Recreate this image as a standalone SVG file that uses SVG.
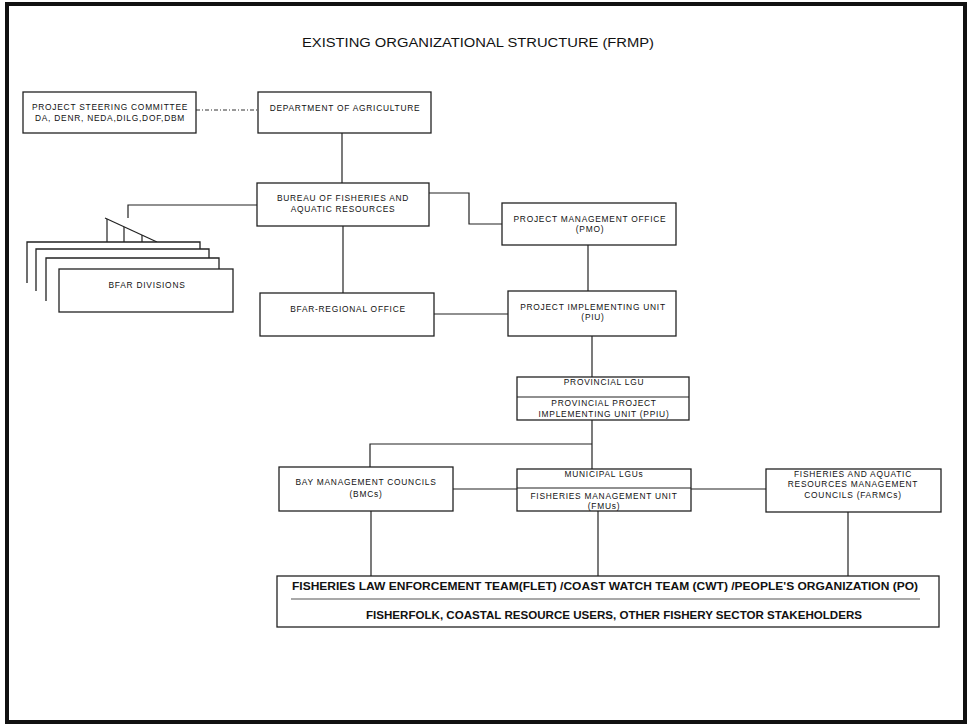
<svg xmlns="http://www.w3.org/2000/svg" width="969" height="725" viewBox="0 0 969 725">
  <style>
    .box { fill: #fff; stroke: #222; stroke-width: 1.3; }
    .ln { fill: none; stroke: #222; stroke-width: 1.2; }
    .t { font-family: "Liberation Sans", Arial, sans-serif; font-size: 8.4px; letter-spacing: 0.75px; fill: #111; text-anchor: middle; }
    .tb { font-family: "Liberation Sans", Arial, sans-serif; font-size: 10.5px; font-weight: bold; fill: #111; text-anchor: middle; }
    .title { font-family: "Liberation Sans", Arial, sans-serif; font-size: 12.5px; fill: #111; text-anchor: middle; }
  </style>

  <rect width="969" height="725" fill="#fff"/>
  <!-- page frame -->
  <rect x="7" y="4" width="958" height="718" fill="none" stroke="#111" stroke-width="4"/>

  <text class="title" x="478" y="47" textLength="352" lengthAdjust="spacingAndGlyphs">EXISTING ORGANIZATIONAL STRUCTURE (FRMP)</text>

  <!-- connectors -->
  <g id="connectors">
    <line x1="196" y1="110" x2="258" y2="110" stroke="#333" stroke-width="1" stroke-dasharray="4 2 1 2"/>
    <path class="ln" d="M342 133 V183"/>
    <path class="ln" d="M429 193 H469 V224 H502"/>
    <path class="ln" d="M343 226 V293"/>
    <path class="ln" d="M588 245 V291"/>
    <path class="ln" d="M434 314 H508"/>
    <path class="ln" d="M592 336 V377"/>
    <path class="ln" d="M592 420 V469"/>
    <path class="ln" d="M592 444 H370 V467"/>
    <path class="ln" d="M453 489 H517"/>
    <path class="ln" d="M691 489 H766"/>
    <path class="ln" d="M371 511 V576"/>
    <path class="ln" d="M598 511 V576"/>
    <path class="ln" d="M848 512 V576"/>
    <!-- BFAR to divisions -->
    <path class="ln" d="M257 205 H128 V218"/>
    <path class="ln" d="M105 218 L157 242"/>
    <path class="ln" d="M107 219 V242"/>
    <path class="ln" d="M124 227 V249"/>
    <path class="ln" d="M142 235 V258"/>
    <path class="ln" d="M157 242 V269"/>
  </g>

  <g id="steering">
    <rect class="box" x="23" y="92" width="173" height="41"/>
    <text class="t" x="110" y="110">PROJECT STEERING COMMITTEE</text>
    <text class="t" x="110" y="121">DA, DENR, NEDA,DILG,DOF,DBM</text>
  </g>

  <g id="da">
    <rect class="box" x="258" y="92" width="173" height="41"/>
    <text class="t" x="345" y="111">DEPARTMENT OF AGRICULTURE</text>
  </g>

  <g id="bfar">
    <rect class="box" x="257" y="183" width="172" height="43"/>
    <text class="t" x="343" y="201">BUREAU OF FISHERIES AND</text>
    <text class="t" x="343" y="212">AQUATIC RESOURCES</text>
  </g>

  <g id="pmo">
    <rect class="box" x="502" y="203" width="174" height="42"/>
    <text class="t" x="590" y="222">PROJECT MANAGEMENT OFFICE</text>
    <text class="t" x="590" y="232">(PMO)</text>
  </g>

  <g id="divisions">
    <path class="box" d="M27 283 V242 H200 V249"/>
    <path class="box" d="M36 291 V249 H209 V258"/>
    <path class="box" d="M46 301 V258 H219 V269"/>
    <rect class="box" x="59" y="269" width="174" height="43"/>
    <text class="t" x="147" y="288">BFAR DIVISIONS</text>
  </g>

  <g id="regional">
    <rect class="box" x="260" y="293" width="174" height="43"/>
    <text class="t" x="348" y="312">BFAR-REGIONAL OFFICE</text>
  </g>

  <g id="piu">
    <rect class="box" x="508" y="291" width="168" height="45"/>
    <text class="t" x="593" y="310">PROJECT IMPLEMENTING UNIT</text>
    <text class="t" x="593" y="320">(PIU)</text>
  </g>

  <g id="provincial">
    <rect class="box" x="517" y="377" width="172" height="43"/>
    <line class="ln" x1="517" y1="397" x2="689" y2="397"/>
    <text class="t" x="604" y="385">PROVINCIAL LGU</text>
    <text class="t" x="604" y="406">PROVINCIAL PROJECT</text>
    <text class="t" x="604" y="417">IMPLEMENTING UNIT (PPIU)</text>
  </g>

  <g id="bmc">
    <rect class="box" x="279" y="467" width="174" height="44"/>
    <text class="t" x="366" y="485">BAY MANAGEMENT COUNCILS</text>
    <text class="t" x="366" y="497">(BMCs)</text>
  </g>

  <g id="municipal">
    <rect class="box" x="517" y="469" width="174" height="42"/>
    <line class="ln" x1="517" y1="488" x2="691" y2="488"/>
    <text class="t" x="604" y="477">MUNICIPAL LGUs</text>
    <text class="t" x="604" y="499">FISHERIES MANAGEMENT UNIT</text>
    <text class="t" x="604" y="509">(FMUs)</text>
  </g>

  <g id="farmc">
    <rect class="box" x="766" y="469" width="175" height="43"/>
    <text class="t" x="853" y="477">FISHERIES AND AQUATIC</text>
    <text class="t" x="853" y="487">RESOURCES MANAGEMENT</text>
    <text class="t" x="853" y="498">COUNCILS (FARMCs)</text>
  </g>

  <g id="stakeholders">
    <rect class="box" x="277" y="576" width="662" height="51"/>
    <line x1="291" y1="599" x2="920" y2="599" stroke="#555" stroke-width="1.2"/>
    <text class="tb" x="605" y="590" textLength="626" lengthAdjust="spacingAndGlyphs">FISHERIES LAW ENFORCEMENT TEAM(FLET) /COAST WATCH TEAM (CWT) /PEOPLE'S ORGANIZATION (PO)</text>
    <text class="tb" x="614" y="619" textLength="496" lengthAdjust="spacingAndGlyphs">FISHERFOLK, COASTAL RESOURCE USERS, OTHER FISHERY SECTOR STAKEHOLDERS</text>
  </g>
</svg>
